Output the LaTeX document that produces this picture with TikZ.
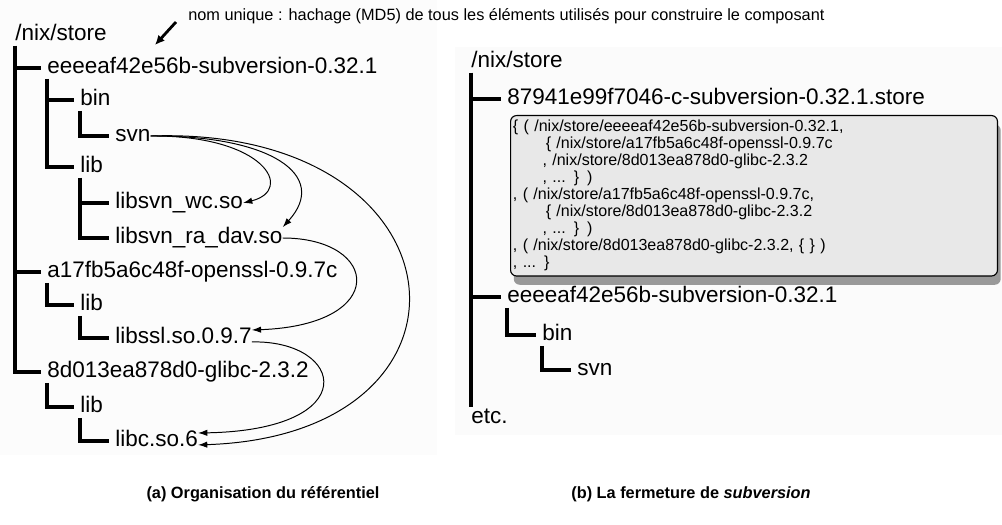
\documentclass[tikz,border=0pt]{standalone}
\usepackage{fontspec}
\setmainfont{Liberation Sans}
\usetikzlibrary{arrows.meta,shadows}

\begin{document}
\begin{tikzpicture}[
      x=0.025cm, y=-0.025cm,
      entry/.style={anchor=west,inner sep=0pt,font=\fontsize{16}{19}\selectfont,
        text height=11.5pt,text depth=3.5pt},
      tree/.style={line width=2.7pt},
      dep/.style={-{Latex[length=2.3mm,width=1.6mm]},line width=0.7pt},
      hint/.style={-{Latex[length=2.4mm,width=2.2mm]},line width=2pt},
      note/.style={anchor=west,inner sep=0pt,font=\fontsize{11.6}{13}\selectfont},
      closure/.style={draw,fill=black!9,rounded corners=0.15cm,line width=0.8pt,
        drop shadow={shadow xshift=0.08cm,shadow yshift=-0.22cm,fill=black!40,opacity=1}},
      caption/.style={inner sep=0pt,font=\fontsize{11.6}{14}\selectfont\bfseries}
  ]
      \useasboundingbox (0,0) rectangle (1002,525);
      % fonds
      \fill[black!1] (0,0) rectangle (437,455);
      \fill[black!1.5] (455,47) rectangle (1002,435);

      % (a) arborescence du store
      \node[entry] (store) at (15,35)  {/nix/store};
      \node[entry] (subv)  at (47,68)  {eeeeaf42e56b-subversion-0.32.1};
      \node[entry] (bin)   at (80,100) {bin};
      \node[entry] (svn)   at (115,136) {svn};
      \node[entry] (lib)   at (80,167) {lib};
      \node[entry] (wc)    at (115,203) {libsvn\_wc.so};
      \node[entry] (dav)   at (115,238) {libsvn\_ra\_dav.so};
      \node[entry] (ossl)  at (47,272) {a17fb5a6c48f-openssl-0.9.7c};
      \node[entry] (olib)  at (80,305) {lib};
      \node[entry] (sslso) at (115,338) {libssl.so.0.9.7};
      \node[entry] (glibc) at (47,372) {8d013ea878d0-glibc-2.3.2};
      \node[entry] (glib)  at (80,407) {lib};
      \node[entry] (libc)  at (115,441) {libc.so.6};

      \draw[tree] (store.south west) |- ([xshift=-1.6mm]subv.west);
      \draw[tree] (store.south west) |- ([xshift=-1.6mm]ossl.west);
      \draw[tree] (store.south west) |- ([xshift=-1.6mm]glibc.west);
      \draw[tree] (subv.south west) |- ([xshift=-1.6mm]bin.west);
      \draw[tree] (subv.south west) |- ([xshift=-1.6mm]lib.west);
      \draw[tree] (bin.south west) |- ([xshift=-1.6mm]svn.west);
      \draw[tree] (lib.south west) |- ([xshift=-1.6mm]wc.west);
      \draw[tree] (lib.south west) |- ([xshift=-1.6mm]dav.west);
      \draw[tree] (ossl.south west) |- ([xshift=-1.6mm]olib.west);
      \draw[tree] (olib.south west) |- ([xshift=-1.6mm]sslso.west);
      \draw[tree] (glibc.south west) |- ([xshift=-1.6mm]glib.west);
      \draw[tree] (glib.south west) |- ([xshift=-1.6mm]libc.west);

      % dependances
      \draw[dep] (svn.east) .. controls (265,135) and (295,190) .. (wc.east);
      \draw[dep] (svn.east) .. controls (270,135) and (330,175) .. (dav.north east);
      \draw[dep] (svn.east) .. controls (470,125) and (500,435) .. ([yshift=-2.8pt]libc.east);
      \draw[dep] (dav.east) .. controls (380,238) and (390,325) .. ([yshift=5.7pt]sslso.east);
      \draw[dep] ([yshift=-2.8pt]sslso.east) .. controls (345,340) and (365,430) .. ([yshift=5.7pt]libc.east);

      % annotation
      \node[note] (note) at (188,16) {nom unique : hachage (MD5) de tous les éléments utilisés pour construire le composant};
      \coordinate (tip) at (155,45);
      \draw[hint] ([xshift=-0.3cm,yshift=-0.15cm]note.west) -- (tip);

      % (b) fermeture
      \node[entry] (rstore) at (471,62)  {/nix/store};
      \node[entry] (rpkg)   at (507,99)  {87941e99f7046-c-subversion-0.32.1.store};
      \node[closure,anchor=north west,text width=12.05cm,minimum height=3.95cm,
            inner xsep=0.06cm,align=left,font=\fontsize{11.4}{12.1}\selectfont] (clos) at (510,115) {%
        \{ ( /nix/store/eeeeaf42e56b-subversion-0.32.1,\\
        \hspace*{0.82cm}\{ /nix/store/a17fb5a6c48f-openssl-0.9.7c\\
        \hspace*{0.74cm}, /nix/store/8d013ea878d0-glibc-2.3.2\\
        \hspace*{0.74cm}, ... \} )\\
        , ( /nix/store/a17fb5a6c48f-openssl-0.9.7c,\\
        \hspace*{0.82cm}\{ /nix/store/8d013ea878d0-glibc-2.3.2\\
        \hspace*{0.74cm}, ... \} )\\
        , ( /nix/store/8d013ea878d0-glibc-2.3.2, \{ \} )\\
        , ... \}};
      \node[entry] (rsubv)  at (507,297) {eeeeaf42e56b-subversion-0.32.1};
      \node[entry] (rbin)   at (542,335) {bin};
      \node[entry] (rsvn)   at (577,370) {svn};
      \node[entry] (etc)    at (471,418) {etc.};

      \draw[tree] (rstore.south west) -- (rstore.south west |- etc.north);
      \draw[tree] (rstore.south west) |- ([xshift=-1.6mm]rpkg.west);
      \draw[tree] (rstore.south west) |- ([xshift=-1.6mm]rsubv.west);
      \draw[tree] (rsubv.south west) |- ([xshift=-1.6mm]rbin.west);
      \draw[tree] (rbin.south west) |- ([xshift=-1.6mm]rsvn.west);

      % legendes
      \node[caption] (capa) at (263,494) {(a) Organisation du référentiel};
      \node[caption] (capb) at (691,494) {(b) La fermeture de \textit{subversion}};
  \end{tikzpicture}
\end{document}
